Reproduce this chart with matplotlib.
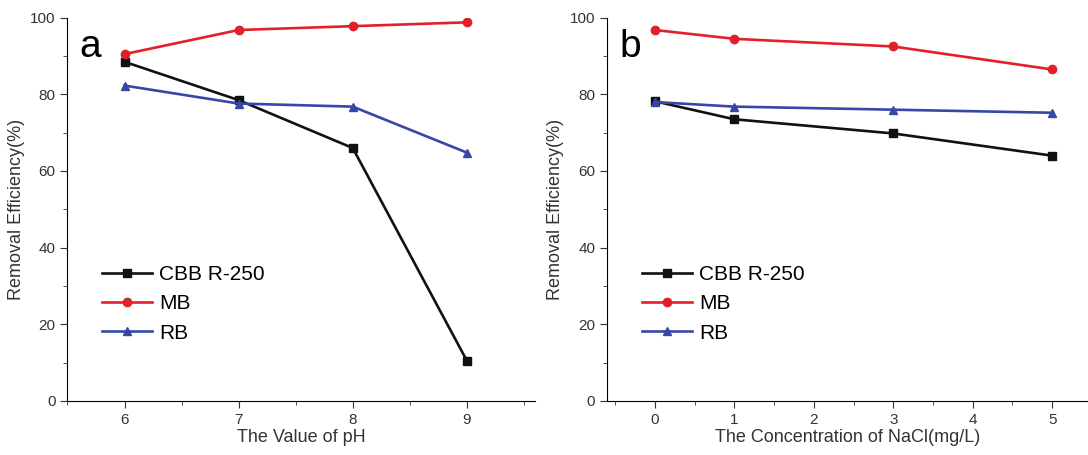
import matplotlib.pyplot as plt
from matplotlib.ticker import MultipleLocator

plt.rcParams['font.family'] = ['Liberation Sans', 'DejaVu Sans']

ph = [6, 7, 8, 9]
ph_cbb = [88.5, 78.5, 66.0, 10.5]
ph_mb = [90.5, 96.8, 97.8, 98.8]
ph_rb = [82.3, 77.6, 76.8, 64.8]

nacl = [0, 1, 3, 5]
nacl_cbb = [78.2, 73.5, 69.8, 64.0]
nacl_mb = [96.8, 94.5, 92.5, 86.5]
nacl_rb = [78.0, 76.8, 76.0, 75.2]

labels = ['CBB R-250', 'MB', 'RB']
colors = ['#111111', '#e3202a', '#3846a8']
markers = ['s', 'o', '^']

fig = plt.figure(figsize=(10.88, 4.55), dpi=100)
ax1 = fig.add_axes([0.062, 0.119, 0.43, 0.842])
ax2 = fig.add_axes([0.558, 0.119, 0.442, 0.842])


def draw(ax, x, series, xlim, xlabel, tag):
    for ys, lab, c, m in zip(series, labels, colors, markers):
        ax.plot(x, ys, color=c, marker=m, markersize=6, lw=1.9, label=lab)
    ax.set_xlim(*xlim)
    ax.set_ylim(0, 100)
    ax.spines['top'].set_visible(False)
    ax.spines['right'].set_visible(False)
    ax.yaxis.set_major_locator(MultipleLocator(20))
    ax.yaxis.set_minor_locator(MultipleLocator(10))
    ax.xaxis.set_major_locator(MultipleLocator(1))
    ax.xaxis.set_minor_locator(MultipleLocator(0.5))
    ax.tick_params(which='major', length=5, labelsize=11, colors='#333333')
    ax.tick_params(which='minor', length=3, colors='#333333')
    ax.set_xlabel(xlabel, fontsize=13, color='#333333', labelpad=2)
    ax.set_ylabel('Removal Efficiency(%)', fontsize=13, color='#333333')
    ax.text(0.025, 0.97, tag, transform=ax.transAxes, fontsize=28,
            va='top', ha='left')
    ax.legend(loc='lower left', bbox_to_anchor=(0.055, 0.13), frameon=False,
              fontsize=15, handlelength=2.4, labelspacing=0.5,
              handletextpad=0.35, borderaxespad=0)


draw(ax1, ph, [ph_cbb, ph_mb, ph_rb], (5.5, 9.6), 'The Value of pH', 'a')
draw(ax2, nacl, [nacl_cbb, nacl_mb, nacl_rb], (-0.6, 5.45),
     'The Concentration of NaCl(mg/L)', 'b')

fig.savefig('out.png', dpi=100)
